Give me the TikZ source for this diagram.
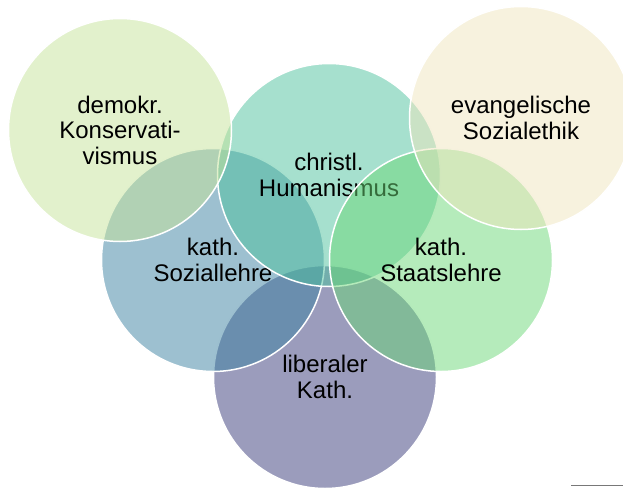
\documentclass[tikz,border=0pt]{standalone}
\usepackage{fontspec}
\setmainfont{Liberation Sans}
\definecolor{cDem}{RGB}{197,227,153}
\definecolor{cHum}{RGB}{77,193,157}
\definecolor{cEva}{RGB}{239,229,189}
\definecolor{cSoz}{RGB}{59,129,161}
\definecolor{cSta}{RGB}{107,215,119}
\definecolor{cLib}{RGB}{55,57,121}
\definecolor{cRule}{RGB}{120,120,120}
\begin{document}
\begin{tikzpicture}[x=1pt,y=-1pt,
  venn/.style={circle, minimum size=223pt, inner sep=0pt, draw=white, line width=1.5pt,
    fill opacity=0.5, draw opacity=1, text opacity=1, align=center,
    font=\fontsize{24}{25.5}\selectfont, text=black}]
\useasboundingbox (0,0) rectangle (623,490);
\clip (0,0) rectangle (623,490);
\node[venn, fill=cLib] (lib) at (325,377) {liberaler\\Kath.};
\node[venn, fill=cSoz] (soz) at (213,260) {kath.\\Soziallehre};
\node[venn, fill=cHum] (hum) at (329,175) {christl.\\Humanismus};
\node[venn, fill=cSta] (sta) at (441,260) {kath.\\Staatslehre};
\node[venn, fill=cEva] (eva) at (521,118) {evangelische\\Sozialethik};
\node[venn, fill=cDem] (dem) at (120,130) {demokr.\\Konservati-\\vismus};
\coordinate (r1) at (571,485.5);
\coordinate (r2) at (623,485.5);
\draw[cRule, line width=1.3pt] (r1) -- (r2);
\end{tikzpicture}
\end{document}
